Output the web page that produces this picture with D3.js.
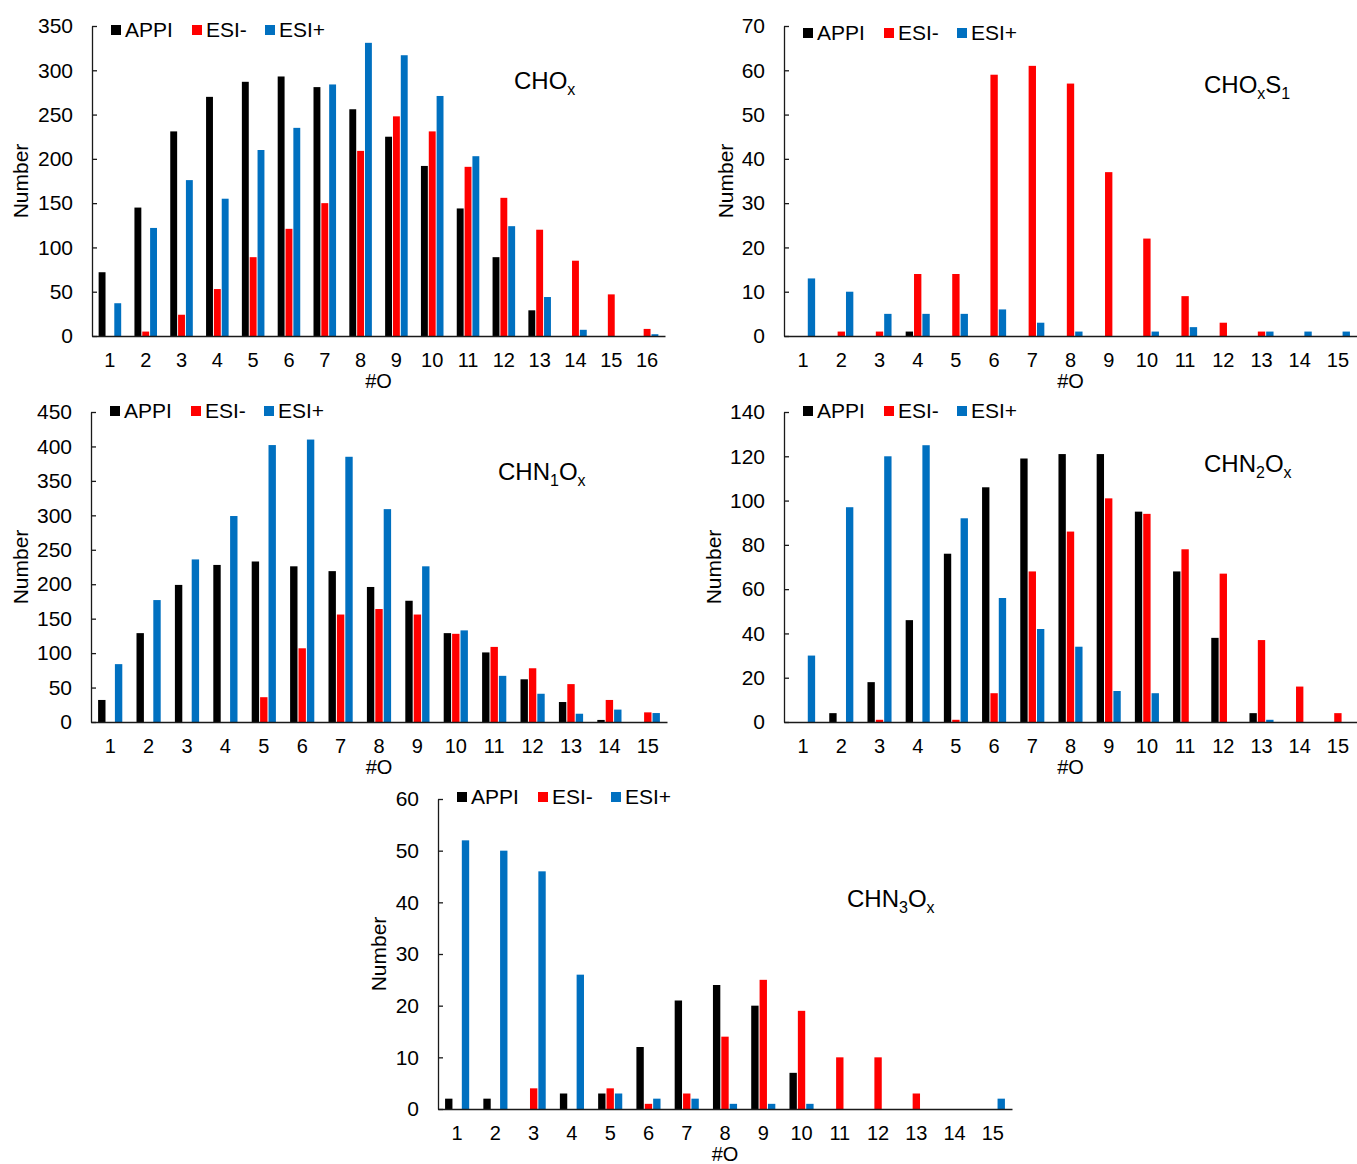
<!DOCTYPE html>
<html>
<head>
<meta charset="utf-8">
<script src="https://cdn.jsdelivr.net/npm/d3@7"></script>
<style>
    body { margin: 0; background: #fff; }
    text { font-family: "Liberation Sans", Arial, sans-serif; fill: #000; }
</style>
</head>
<body>
<div id="chart"></div>
<script>
// x categories (#O)
const oCounts16 = [1, 2, 3, 4, 5, 6, 7, 8, 9, 10, 11, 12, 13, 14, 15, 16];
const oCounts15 = [1, 2, 3, 4, 5, 6, 7, 8, 9, 10, 11, 12, 13, 14, 15];

const seriesNames = ["APPI", "ESI-", "ESI+"];
const seriesColors = ["#000000", "#ff0000", "#0070c0"];

// CHOx
const choAPPI = [72, 145, 231, 270, 287, 293, 281, 256, 225, 192, 144, 89, 29, 0, 0, 0];
const choESIneg = [0, 5, 24, 53, 89, 121, 150, 209, 248, 231, 191, 156, 120, 85, 47, 8];
const choESIpos = [37, 122, 176, 155, 210, 235, 284, 331, 317, 271, 203, 124, 44, 7, 0, 2];

// CHOxS1
const chosAPPI = [0, 0, 0, 1, 0, 0, 0, 0, 0, 0, 0, 0, 0, 0, 0];
const chosESIneg = [0, 1, 1, 14, 14, 59, 61, 57, 37, 22, 9, 3, 1, 0, 0];
const chosESIpos = [13, 10, 5, 5, 5, 6, 3, 1, 0, 1, 2, 0, 1, 1, 1];

// CHN1Ox
const chn1APPI = [32, 129, 199, 228, 233, 226, 219, 196, 176, 129, 101, 62, 29, 3, 0];
const chn1ESIneg = [0, 0, 0, 0, 36, 107, 156, 164, 156, 128, 109, 78, 55, 32, 14];
const chn1ESIpos = [84, 177, 236, 299, 402, 410, 385, 309, 226, 133, 67, 41, 12, 18, 13];

// CHN2Ox
const chn2APPI = [0, 4, 18, 46, 76, 106, 119, 121, 121, 95, 68, 38, 4, 0, 0];
const chn2ESIneg = [0, 0, 1, 0, 1, 13, 68, 86, 101, 94, 78, 67, 37, 16, 4];
const chn2ESIpos = [30, 97, 120, 125, 92, 56, 42, 34, 14, 13, 0, 0, 1, 0, 0];

// CHN3Ox
const chn3APPI = [2, 2, 0, 3, 3, 12, 21, 24, 20, 7, 0, 0, 0, 0, 0];
const chn3ESIneg = [0, 0, 4, 0, 4, 1, 3, 14, 25, 19, 10, 10, 3, 0, 0];
const chn3ESIpos = [52, 50, 46, 26, 3, 2, 2, 1, 1, 1, 0, 0, 0, 0, 2];

// y axis maxima / steps
const yMaxes = [350, 70, 450, 140, 60];
const ySteps = [50, 10, 50, 20, 10];

const width = 1357;
const height = 1164;
const fontSize = 21;
const xFontSize = 20;

const svg = d3.select("#chart").append("svg")
    .attr("width", width)
    .attr("height", height)

// panel placement (pixels)
const panels = [
    { cats: oCounts16, series: [choAPPI, choESIneg, choESIpos], x0: 92, x1: 665, top: 26, bottom: 336, legY: 30, numX: 21, title: [["CHO", 0], ["x", 1]], tx: 514, ty: 89 },
    { cats: oCounts15, series: [chosAPPI, chosESIneg, chosESIpos], x0: 784, x1: 1357, top: 26, bottom: 336, legY: 33, numX: 726, title: [["CHO", 0], ["x", 1], ["S", 0], ["1", 1]], tx: 1204, ty: 93 },
    { cats: oCounts15, series: [chn1APPI, chn1ESIneg, chn1ESIpos], x0: 91, x1: 667, top: 412, bottom: 722, legY: 411, numX: 21, title: [["CHN", 0], ["1", 1], ["O", 0], ["x", 1]], tx: 498, ty: 480 },
    { cats: oCounts15, series: [chn2APPI, chn2ESIneg, chn2ESIpos], x0: 784, x1: 1357, top: 412, bottom: 722, legY: 411, numX: 714, title: [["CHN", 0], ["2", 1], ["O", 0], ["x", 1]], tx: 1204, ty: 472 },
    { cats: oCounts15, series: [chn3APPI, chn3ESIneg, chn3ESIpos], x0: 438, x1: 1012, top: 799, bottom: 1109, legY: 797, numX: 379, title: [["CHN", 0], ["3", 1], ["O", 0], ["x", 1]], tx: 847, ty: 907 }
];

const drawPanel = (p, i) => {
    const g = svg.append("g")

    const x = d3.scaleBand().domain(p.cats).range([p.x0, p.x1]).padding(0)
    const bw = x.bandwidth()
    //bars sit in the middle ~63% of each category
    const xs = d3.scaleBand().domain(seriesNames).range([bw * 0.185, bw * 0.815]).paddingInner(0.12)
    const y = d3.scaleLinear().domain([0, yMaxes[i]]).range([p.bottom, p.top])

    seriesNames.forEach((name, s) => {
        g.append("g")
            .selectAll("rect")
            .data(p.series[s])
            .join("rect")
            .attr("x", (d, k) => x(p.cats[k]) + xs(name))
            .attr("width", xs.bandwidth())
            .attr("y", d => y(d))
            .attr("height", d => y(0) - y(d))
            .attr("fill", seriesColors[s])
    })

    // y axis, ticks point inwards
    const yAxis = g.append("g")
        .attr("transform", `translate(${p.x0}, 0)`)
        .call(d3.axisLeft(y)
            .tickValues(d3.range(0, yMaxes[i] + 1, ySteps[i]))
            .tickSizeInner(-5)
            .tickSizeOuter(0)
            .tickPadding(19))
    yAxis.selectAll("text").style("font-size", fontSize + "px").attr("fill", "#000")

    // x axis, no tick marks
    const xAxis = g.append("g")
        .attr("transform", `translate(0, ${p.bottom})`)
        .call(d3.axisBottom(x).tickSize(0).tickPadding(17))
    xAxis.selectAll("text").style("font-size", xFontSize + "px").attr("fill", "#000")

    g.selectAll(".domain, .tick line").attr("stroke", "#1a1a1a").attr("stroke-width", 1.3)
    g.selectAll("text").style("font-family", "'Liberation Sans', Arial, sans-serif")

    //axe labeling
    g.append("text")
        .attr("text-anchor", "middle")
        .attr("x", (p.x0 + p.x1) / 2)
        .attr("y", p.bottom + 52)
        .style("font-size", xFontSize + "px")
        .text("#O")
    g.append("text")
        .attr("text-anchor", "middle")
        .attr("transform", `translate(${p.numX + 7}, ${(p.top + p.bottom) / 2}) rotate(-90)`)
        .style("font-size", fontSize + "px")
        .text("Number")

    // legend
    const legendOffsets = [19, 100, 173]
    seriesNames.forEach((name, s) => {
        const lx = p.x0 + legendOffsets[s]
        g.append("rect")
            .attr("x", lx)
            .attr("y", p.legY - 5)
            .attr("width", 10)
            .attr("height", 10)
            .attr("fill", seriesColors[s])
        g.append("text")
            .attr("x", lx + 14)
            .attr("y", p.legY + 7)
            .style("font-size", fontSize + "px")
            .text(name)
    })

    // formula title with subscripts
    const title = g.append("text")
        .attr("x", p.tx)
        .attr("y", p.ty)
        .style("font-size", "24px")
    let shifted = false
    p.title.forEach(([t, sub]) => {
        let dy = 0
        if (sub && !shifted) { dy = 6; shifted = true }
        else if (!sub && shifted) { dy = -6; shifted = false }
        title.append("tspan")
            .attr("dy", dy)
            .style("font-size", sub ? "16px" : "24px")
            .text(t)
    })
}

panels.forEach(drawPanel)
</script>
</body>
</html>
